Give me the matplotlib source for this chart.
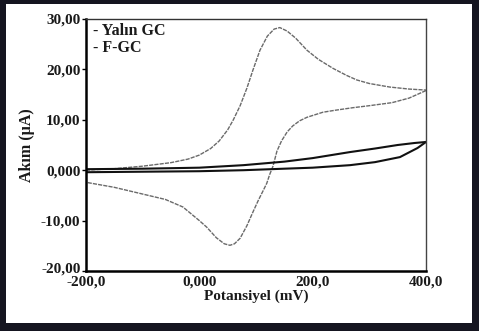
import matplotlib
matplotlib.use("Agg")
import matplotlib.pyplot as plt
from matplotlib.patches import Rectangle
from matplotlib.transforms import ScaledTranslation

# F-GC cyclic voltammogram (potential mV, current uA)
fgc_fwd_x = [-200, -150, -100, -50, -20, 0, 20, 35, 50, 60, 72, 84, 95, 107, 120, 132, 142, 155, 170, 190, 210, 236, 260, 278, 300, 336, 370, 400]
fgc_fwd_y = [0.0, 0.3, 0.8, 1.5, 2.2, 3.0, 4.3, 5.8, 8.0, 10.0, 12.8, 16.3, 20.0, 23.8, 26.6, 28.0, 28.3, 27.6, 26.2, 23.8, 22.0, 20.2, 18.8, 17.9, 17.2, 16.5, 16.1, 15.9]
fgc_rev_x = [400, 370, 340, 300, 271, 240, 218, 190, 177, 165, 155, 145, 137, 130, 124, 119, 112, 104, 95, 84, 72, 62, 54, 44, 30, 13, 0, -29, -60, -105, -150, -200]
fgc_rev_y = [15.8, 14.3, 13.4, 12.8, 12.4, 11.9, 11.5, 10.5, 9.8, 8.8, 7.6, 5.8, 3.8, 0.8, -0.9, -2.6, -4.2, -6.0, -8.2, -11.0, -13.5, -14.6, -14.9, -14.6, -13.4, -11.3, -10.0, -7.3, -5.8, -4.6, -3.4, -2.4]

# Yalın GC
gc_fwd_x = [-200, -100, 0, 78, 150, 200, 266, 310, 350, 380, 400]
gc_fwd_y = [0.2, 0.3, 0.5, 1.0, 1.7, 2.4, 3.6, 4.3, 5.0, 5.4, 5.6]
gc_rev_x = [400, 385, 354, 310, 266, 200, 150, 78, 0, -100, -200]
gc_rev_y = [5.6, 4.4, 2.6, 1.6, 1.0, 0.5, 0.3, 0.0, -0.2, -0.3, -0.4]

xticks = [-200, 0, 200, 400]
xtick_labels = ["-200,0", "0,000", "200,0", "400,0"]
yticks = [-20, -10, 0, 10, 20, 30]
ytick_labels = ["-20,00", "-10,00", "0,000", "10,00", "20,00", "30,00"]

font = "Liberation Serif"
txtcol = "#1a1a1a"

fig = plt.figure(figsize=(4.79, 3.31), dpi=100)
fig.patch.set_facecolor("white")
ax = fig.add_axes([86/479, 1-271/331, 340/479, 252/331])

ax.plot(fgc_fwd_x, fgc_fwd_y, color="#6a6a6a", lw=1.0, ls=(0, (3, 0.8)))
ax.plot(fgc_rev_x, fgc_rev_y, color="#6a6a6a", lw=1.0, ls=(0, (3, 0.8)))
ax.plot(gc_fwd_x, gc_fwd_y, color="#111111", lw=1.5)
ax.plot(gc_rev_x, gc_rev_y, color="#111111", lw=1.5)

ax.set_xlim(-200, 400)
ax.set_ylim(-20, 30)
ax.set_xticks(xticks)
ax.set_xticklabels(xtick_labels)
ax.set_yticks(yticks)
ax.set_yticklabels(ytick_labels)
for lab in ax.get_xticklabels() + ax.get_yticklabels():
    lab.set_fontfamily(font)
    lab.set_fontweight("bold")
    lab.set_fontsize(11)
    lab.set_color(txtcol)
ax.tick_params(axis="y", length=3, width=1, pad=1, direction="out")
ax.tick_params(axis="x", length=0, pad=3)

# nudge the lowest y label up a little, as in the reference
ylabs = ax.get_yticklabels()
ylabs[0].set_transform(ylabs[0].get_transform() + ScaledTranslation(0, 3/100, fig.dpi_scale_trans))

ax.spines["left"].set_linewidth(1.8)
ax.spines["bottom"].set_linewidth(1.8)
ax.spines["top"].set_linewidth(1.0)
ax.spines["right"].set_linewidth(1.0)
ax.spines["right"].set_linestyle((0, (2, 1)))
ax.spines["top"].set_color("#333333")
ax.spines["right"].set_color("#444444")

ax.set_xlabel("Potansiyel (mV)", fontfamily=font, fontweight="bold", fontsize=11, labelpad=1, color=txtcol)
ax.set_ylabel("Akım (µA)", fontfamily=font, fontweight="bold", fontsize=11.5, labelpad=4, color=txtcol)

ax.text(0.02, 0.985, "- Yalın GC", transform=ax.transAxes, ha="left", va="top",
        fontfamily=font, fontweight="bold", fontsize=11.5, color=txtcol)
ax.text(0.02, 0.915, "- F-GC", transform=ax.transAxes, ha="left", va="top",
        fontfamily=font, fontweight="bold", fontsize=11.5, color=txtcol)

# thick outer frame of the scanned figure (top, left, bottom, right thickness in px)
W, H = 479, 331
fc = "#151520"
for (x0, y0, w, h) in [(0, H-4, W, 4), (0, 0, 6, H), (0, 0, W, 8), (W-7, 0, 7, H)]:
    fig.patches.append(Rectangle((x0/W, y0/H), w/W, h/H, transform=fig.transFigure,
                                 facecolor=fc, edgecolor="none", zorder=10))

fig.savefig("out.png", dpi=100)
